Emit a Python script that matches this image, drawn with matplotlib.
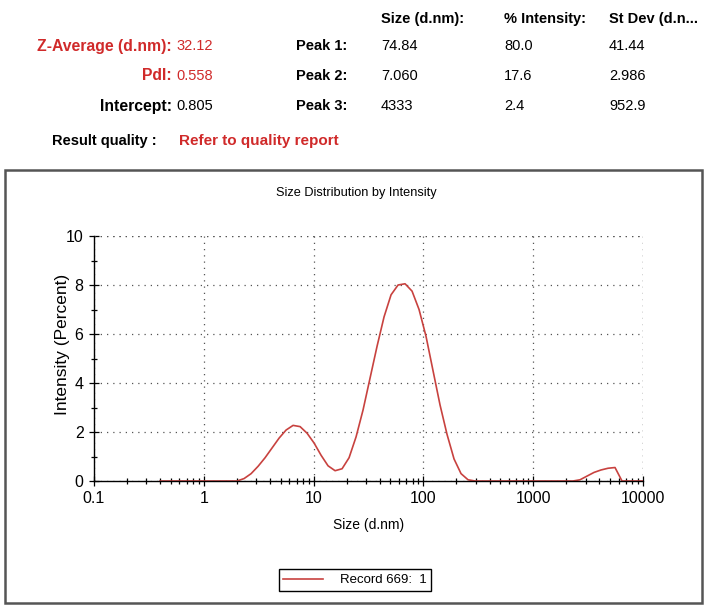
import matplotlib.pyplot as plt
from matplotlib.patches import Rectangle
from matplotlib.ticker import FixedLocator, LogLocator, NullFormatter

plt.rcParams["font.family"] = ["Liberation Sans Narrow", "Liberation Sans", "DejaVu Sans"]

# size bins (d.nm) and intensity (%)
sizes = [0.4, 0.4632, 0.5365, 0.6213, 0.7195, 0.8332, 0.9649, 1.117, 1.294, 1.499,
         1.736, 2.010, 2.328, 2.696, 3.122, 3.615, 4.187, 4.849, 5.615, 6.503,
         7.531, 8.721, 10.10, 11.70, 13.54, 15.69, 18.17, 21.04, 24.36, 28.21,
         32.67, 37.84, 43.82, 50.75, 58.77, 68.06, 78.82, 91.28, 105.7, 122.4,
         141.8, 164.2, 190.1, 220.2, 255.0, 295.3, 342.0, 396.1, 458.7, 531.2,
         615.1, 712.4, 825.0, 955.4, 1106, 1281, 1484, 1718, 1990, 2305,
         2669, 3091, 3580, 4145, 4801, 5560, 6439, 7456, 8635, 10000]
intensity = [0, 0, 0, 0, 0, 0, 0, 0, 0, 0,
             0, 0, 0.1, 0.3, 0.6, 0.95, 1.35, 1.75, 2.08, 2.27,
             2.22, 1.95, 1.55, 1.05, 0.62, 0.42, 0.5, 0.95, 1.8, 2.9,
             4.2, 5.5, 6.7, 7.6, 8.0, 8.05, 7.75, 7.0, 5.9, 4.5,
             3.1, 1.9, 0.9, 0.3, 0.05, 0, 0, 0, 0, 0,
             0, 0, 0, 0, 0, 0, 0, 0, 0, 0,
             0.05, 0.2, 0.35, 0.45, 0.52, 0.55, 0, 0, 0, 0]

header_cols = ["Size (d.nm):", "% Intensity:", "St Dev (d.n..."]
peak_names = ["Peak 1:", "Peak 2:", "Peak 3:"]
peak_size = ["74.84", "7.060", "4333"]
peak_pct = ["80.0", "17.6", "2.4"]
peak_sd = ["41.44", "2.986", "952.9"]
left_names = ["Z-Average (d.nm):", "PdI:", "Intercept:"]
left_values = ["32.12", "0.558", "0.805"]
left_red = [True, True, False]

RED = "#d02a2a"
LINE = "#c8423f"

W, H = 708, 610
fig = plt.figure(figsize=(W / 100, H / 100), dpi=100)


def fx(px):
    return px / W


def fy(py):
    return 1 - py / H


# results table above the chart
col_x = [381, 504, 609]
for x, t in zip(col_x, header_cols):
    fig.text(fx(x), fy(19), t, fontsize=10.5, fontweight="bold", va="center")

row_y = [46, 76, 106]
for i, y in enumerate(row_y):
    c = RED if left_red[i] else "black"
    fig.text(fx(172), fy(y), left_names[i], fontsize=11.3, fontweight="bold",
             color=c, ha="right", va="center")
    fig.text(fx(176), fy(y), left_values[i], fontsize=10.5, color=c, va="center")
    fig.text(fx(347), fy(y), peak_names[i], fontsize=10.5, fontweight="bold",
             ha="right", va="center")
    fig.text(fx(col_x[0]), fy(y), peak_size[i], fontsize=10.5, va="center")
    fig.text(fx(col_x[1]), fy(y), peak_pct[i], fontsize=10.5, va="center")
    fig.text(fx(col_x[2]), fy(y), peak_sd[i], fontsize=10.5, va="center")

fig.text(fx(157), fy(141), "Result quality :", fontsize=10.5, fontweight="bold",
         ha="right", va="center")
fig.text(fx(179), fy(141), "Refer to quality report", fontsize=11,
         fontweight="bold", color=RED, va="center")

# chart panel frame
fig.patches.append(Rectangle((fx(5), fy(603)), fx(697), (603 - 170) / H,
                             transform=fig.transFigure, fill=False,
                             edgecolor="#555555", linewidth=1.8))
fig.text(fx(356), fy(193), "Size Distribution by Intensity", fontsize=9.2,
         ha="center", va="center")

ax = fig.add_axes([fx(94), fy(481), (643 - 94) / W, (481 - 236) / H])
line, = ax.plot(sizes, intensity, color=LINE, linewidth=1.2)
ax.set_xscale("log")
ax.set_xlim(0.1, 10000)
ax.set_ylim(0, 10)

ax.xaxis.set_major_locator(FixedLocator([0.1, 1, 10, 100, 1000, 10000]))
ax.set_xticklabels(["0.1", "1", "10", "100", "1000", "10000"])
ax.xaxis.set_minor_locator(LogLocator(base=10, subs=range(2, 10)))
ax.xaxis.set_minor_formatter(NullFormatter())
ax.set_yticks([0, 2, 4, 6, 8, 10])
ax.set_yticks([1, 3, 5, 7, 9], minor=True)

ax.tick_params(which="both", direction="inout", length=7, width=0.9,
               labelsize=11.5, pad=4)
ax.tick_params(which="minor", length=5)

for s in ["top", "right"]:
    ax.spines[s].set_visible(False)
for s in ["left", "bottom"]:
    ax.spines[s].set_linewidth(1.0)

ax.grid(True, which="major", linestyle=(0, (1, 4)), color="#555555",
        linewidth=0.9)
ax.axhline(10, linestyle=(0, (1, 4)), color="#555555", linewidth=0.9)
ax.axvline(10000, linestyle=(0, (1, 4)), color="#555555", linewidth=0.9)
ax.set_axisbelow(True)

ax.set_xlabel("Size (d.nm)", fontsize=10, labelpad=8)
ax.set_ylabel("Intensity (Percent)", fontsize=12.5)
ax.yaxis.set_label_coords((70 - 94) / 549, (481 - 344) / 245)

fig.legend([line], ["Record 669:  1"], loc="center",
           bbox_to_anchor=(fx(355), fy(580)), fancybox=False,
           edgecolor="black", framealpha=1, fontsize=9.5,
           handlelength=3.0, borderpad=0.35, handletextpad=1.3,
           borderaxespad=0)

fig.savefig("out.png", dpi=100)
